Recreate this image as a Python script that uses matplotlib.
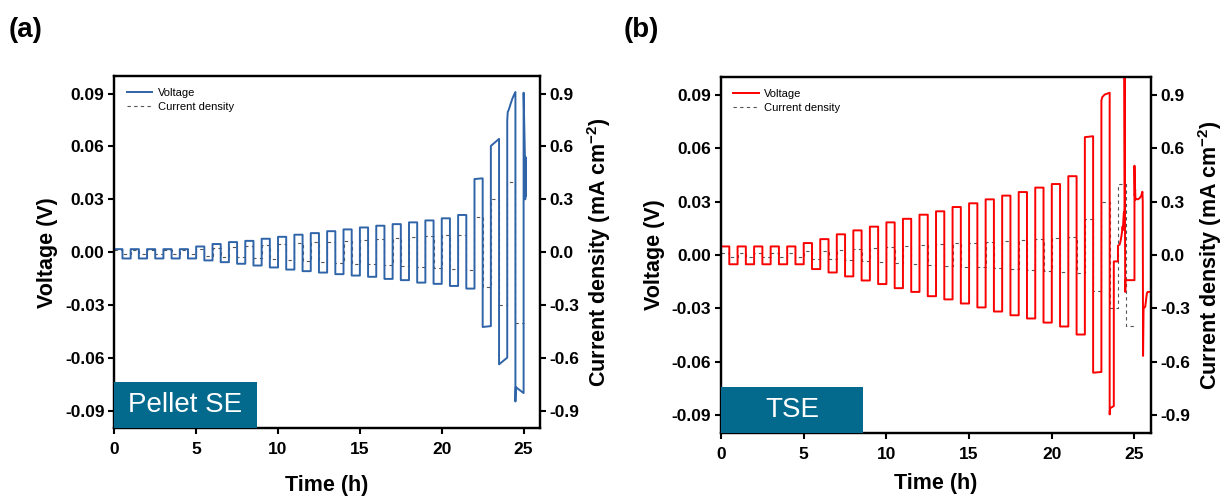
import numpy as np
import matplotlib.pyplot as plt
from matplotlib.patches import Rectangle

plt.rcParams['font.family'] = ['Liberation Sans', 'DejaVu Sans']
plt.rcParams['axes.unicode_minus'] = False
plt.rcParams['mathtext.fontset'] = 'custom'
plt.rcParams['mathtext.rm'] = 'Liberation Sans'
plt.rcParams['mathtext.bf'] = 'Liberation Sans:bold'

# ---- Pellet SE: plateau voltages per cycle (V), cycles 1-24 ----
pel_hi_start = [0.0017, 0.0017, 0.0017, 0.0017, 0.0017, 0.0032, 0.0046, 0.0057,
                0.0064, 0.0076, 0.0087, 0.0099, 0.0108, 0.0119, 0.0129, 0.0140,
                0.0150, 0.0159, 0.0169, 0.0180, 0.0192, 0.0211, 0.0415, 0.0603]
pel_hi_end = [0.0017, 0.0017, 0.0017, 0.0017, 0.0017, 0.0032, 0.0046, 0.0057,
              0.0064, 0.0076, 0.0087, 0.0099, 0.0108, 0.0119, 0.0129, 0.0140,
              0.0150, 0.0159, 0.0169, 0.0180, 0.0192, 0.0211, 0.0419, 0.0643]
pel_lo_start = [-0.0036, -0.0036, -0.0036, -0.0036, -0.0036, -0.0047, -0.0057, -0.0066,
                -0.0076, -0.0087, -0.0099, -0.0108, -0.0116, -0.0125, -0.0133, -0.0140,
                -0.0152, -0.0159, -0.0173, -0.0180, -0.0192, -0.0207, -0.0425, -0.0637]
pel_lo_end = [-0.0036, -0.0036, -0.0036, -0.0036, -0.0036, -0.0047, -0.0057, -0.0066,
              -0.0076, -0.0087, -0.0099, -0.0108, -0.0116, -0.0125, -0.0133, -0.0140,
              -0.0152, -0.0159, -0.0173, -0.0180, -0.0192, -0.0207, -0.0420, -0.0599]
# last cycle and failure (h, V)
pel_tail_t = [24.0, 24.03, 24.1, 24.2, 24.3, 24.4, 24.5, 24.5, 24.52, 25.0,
              25.0, 25.08, 25.1, 25.12, 25.14]
pel_tail_v = [0.0746, 0.0795, 0.0810, 0.0840, 0.0868, 0.0890, 0.0909, -0.0848, -0.0766, -0.0800,
              0.0905, 0.0540, 0.0300, 0.0540, 0.0320]

# ---- TSE: plateau voltages per cycle (V), cycles 1-23 ----
tse_hi_start = [0.0048, 0.0048, 0.0048, 0.0048, 0.0048, 0.0067, 0.0089, 0.0116,
                0.0138, 0.0159, 0.0183, 0.0203, 0.0226, 0.0245, 0.0269, 0.0290,
                0.0312, 0.0333, 0.0353, 0.0378, 0.0398, 0.0442, 0.0661]
tse_hi_end = [0.0048, 0.0048, 0.0048, 0.0048, 0.0048, 0.0067, 0.0089, 0.0116,
              0.0138, 0.0159, 0.0183, 0.0203, 0.0226, 0.0245, 0.0269, 0.0290,
              0.0312, 0.0333, 0.0353, 0.0378, 0.0398, 0.0442, 0.0666]
tse_lo_start = [-0.0052, -0.0052, -0.0052, -0.0052, -0.0052, -0.0079, -0.0098, -0.0120,
                -0.0143, -0.0163, -0.0186, -0.0207, -0.0231, -0.0249, -0.0272, -0.0294,
                -0.0317, -0.0338, -0.0356, -0.0379, -0.0401, -0.0446, -0.0660]
tse_lo_end = [-0.0052, -0.0052, -0.0052, -0.0052, -0.0052, -0.0079, -0.0098, -0.0120,
              -0.0143, -0.0163, -0.0186, -0.0207, -0.0231, -0.0249, -0.0272, -0.0294,
              -0.0317, -0.0338, -0.0356, -0.0379, -0.0401, -0.0446, -0.0656]
tse_tail_t = [23.0, 23.05, 23.2, 23.5, 23.5, 23.52, 23.75, 23.75, 24.0, 24.0,
              24.1, 24.15, 24.2, 24.25, 24.28, 24.3, 24.33, 24.36, 24.38, 24.4,
              24.4, 24.44, 24.46, 25.0, 25.0, 25.02, 25.04, 25.06, 25.1, 25.2,
              25.3, 25.4, 25.48, 25.5, 25.52, 25.55, 25.65, 25.75, 25.8, 26.0]
tse_tail_v = [0.0866, 0.0885, 0.0900, 0.0910, -0.0894, -0.0860, -0.0847, -0.0036, -0.0036, 0.0052,
              0.0058, 0.0075, 0.0100, 0.0130, 0.0160, 0.0140, 0.0200, 0.0240, 0.0200, 0.0280,
              0.1020, -0.0207, -0.0141, -0.0141, 0.0501, 0.0330, 0.0370, 0.0310, 0.0315, 0.0312,
              0.0318, 0.0330, 0.0355, 0.0300, -0.0566, -0.0300, -0.0290, -0.0215, -0.0207, -0.0207]

# applied current density per cycle (mA cm-2), same protocol for both cells
current_levels = [0.01, 0.01, 0.01, 0.01, 0.01, 0.02, 0.025, 0.03, 0.035, 0.04,
                  0.045, 0.05, 0.055, 0.06, 0.065, 0.07, 0.075, 0.08, 0.085, 0.09,
                  0.095, 0.1, 0.2, 0.3, 0.4]


def square_wave(hi_start, hi_end, lo_start, lo_end, period=1.0):
    t, v = [], []
    for k in range(len(hi_start)):
        t0 = k * period
        t += [t0, t0 + period / 2]
        v += [hi_start[k], hi_end[k]]
        if k < len(lo_start):
            t += [t0 + period / 2, t0 + period]
            v += [lo_start[k], lo_end[k]]
    return t, v


def draw_panel(rect, t, v, color, tag, box_w, letter, letter_xy, xpad):
    ax = fig.add_axes(rect)
    ax2 = ax.twinx()
    ax.set_zorder(ax2.get_zorder() + 1)
    ax.patch.set_visible(False)

    levels = np.array(current_levels)
    it, iv = square_wave(levels, levels, -levels, -levels)
    ax2.plot(it, iv, color='#555555', lw=0.8, ls=(0, (3, 3)), label='Current density')
    ax.plot(t, v, color=color, lw=1.4, label='Voltage')

    ax.set_xlim(0, 26)
    ax.set_ylim(-0.1, 0.1)
    ax2.set_ylim(-1.0, 1.0)
    ax.set_xticks([0, 5, 10, 15, 20, 25])
    ax.set_yticks([-0.09, -0.06, -0.03, 0, 0.03, 0.06, 0.09])
    ax.set_yticklabels(['%.2f' % y for y in ax.get_yticks()])
    ax2.set_yticks([-0.9, -0.6, -0.3, 0, 0.3, 0.6, 0.9])
    ax2.set_yticklabels(['%.1f' % y for y in ax2.get_yticks()])

    for a in (ax, ax2):
        for s in a.spines.values():
            s.set_linewidth(1.6)
        a.tick_params(direction='out', length=4, width=1.5, labelsize=12.5, pad=3)
        for lab in a.get_xticklabels() + a.get_yticklabels():
            lab.set_fontweight('bold')
    ax.tick_params(axis='x', pad=6)

    ax.set_xlabel('Time (h)', fontsize=15.5, fontweight='bold', labelpad=xpad)
    ax.set_ylabel('Voltage (V)', fontsize=15.5, fontweight='bold', labelpad=5)
    ax2.set_ylabel(r'Current density (mA cm$^{\mathbf{-2}}$)', fontsize=15.5,
                   fontweight='bold', labelpad=4)

    h1, l1 = ax.get_legend_handles_labels()
    h2, l2 = ax2.get_legend_handles_labels()
    ax.legend(h1 + h2, l1 + l2, loc='upper left', frameon=False, fontsize=8,
              handlelength=2.3, handletextpad=0.5, labelspacing=0.35,
              borderaxespad=0.7)

    ax.add_patch(Rectangle((0, -0.1), box_w, 0.026, facecolor='#03698d',
                           edgecolor='none', zorder=5))
    ax.text(box_w / 2, -0.087, tag, color='white', fontsize=20,
            ha='center', va='center', zorder=6)
    fig.text(letter_xy[0], letter_xy[1], letter, fontsize=20, fontweight='bold',
             ha='center', va='center')
    return ax


fig = plt.figure(figsize=(12.25, 4.98), dpi=100)

pel_t, pel_v = square_wave(pel_hi_start, pel_hi_end, pel_lo_start, pel_lo_end)
tse_t, tse_v = square_wave(tse_hi_start, tse_hi_end, tse_lo_start, tse_lo_end)

draw_panel([0.0933, 0.1400, 0.3475, 0.7074], pel_t + pel_tail_t, pel_v + pel_tail_v,
           '#2f64a8', 'Pellet SE', 8.7, '(a)', (26 / 1225, 1 - 30 / 498), 13)
draw_panel([0.5886, 0.1299, 0.3510, 0.7161], tse_t + tse_tail_t, tse_v + tse_tail_v,
           '#fa0000', 'TSE', 8.6, '(b)', (641 / 1225, 1 - 30 / 498), 8)

fig.savefig('out.png', dpi=100)
